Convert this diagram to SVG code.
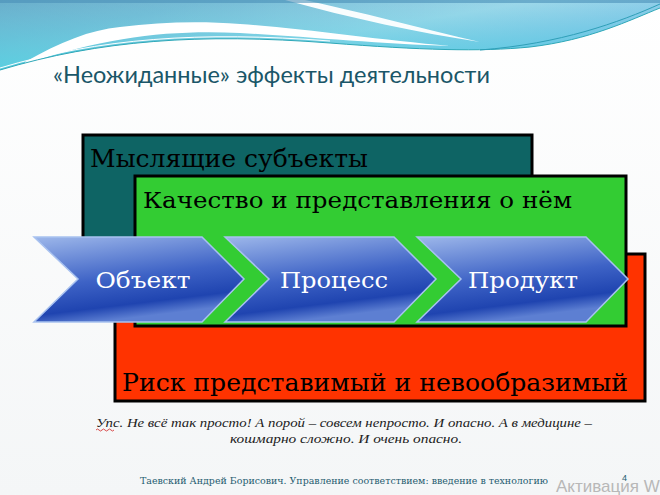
<svg xmlns="http://www.w3.org/2000/svg" width="660" height="495" viewBox="0 0 660 495">
<defs>
<linearGradient id="bg" x1="0" y1="0" x2="0" y2="1"><stop offset="0" stop-color="#ffffff"/><stop offset="1" stop-color="#f4f6f7"/></linearGradient>
<linearGradient id="wave" x1="0" y1="0" x2="1" y2="0.6"><stop offset="0" stop-color="#6aaecb"/><stop offset="0.25" stop-color="#78bcd6"/><stop offset="0.6" stop-color="#9ed8ea"/><stop offset="1" stop-color="#7cc0e8"/></linearGradient>
<linearGradient id="cyan" x1="0" y1="0" x2="0" y2="1"><stop offset="0" stop-color="#50c8dc" stop-opacity="0"/><stop offset="1" stop-color="#44d0e0"/></linearGradient>
<linearGradient id="chev" x1="0" y1="0" x2="0.3" y2="1"><stop offset="0" stop-color="#9db7ea"/><stop offset="0.55" stop-color="#3e63c6"/><stop offset="0.85" stop-color="#1f44b0"/><stop offset="1" stop-color="#5d7fd2"/></linearGradient>
<style>
.box{stroke:#000;stroke-width:3}
.sf{font-family:"DejaVu Serif","Liberation Serif",serif}
.ch{fill:url(#chev);stroke:#a8c2f0;stroke-width:1.5}
.cl{font-family:"DejaVu Serif","Liberation Serif",serif;font-size:23px;fill:#fff;text-anchor:middle}
.ln{fill:none;stroke-width:1}
</style>
</defs>
<rect width="660" height="495" fill="url(#bg)"/>
<g id="header">
<path d="M0,0 H660 V8 C630,20 590,40 530,47 C480,52 420,50 330,43 C200,33 100,40 0,70 Z" fill="url(#wave)"/>
<path d="M0,0 H660 V8 C630,20 590,40 530,47 C480,52 420,50 330,43 C200,33 100,40 0,70 Z" fill="url(#cyan)" opacity="0.7"/>
<path d="M25,62 C60,42 90,30 120,27 C160,22 200,21 240,24 C300,28 380,40 450,46 C380,44 300,36 240,33 C170,30 110,36 25,64 Z" fill="#ffffff"/>
<path d="M285,0 L305,0 C360,12 420,28 480,42 C420,33 350,18 285,0 Z" fill="#ffffff" opacity="0.95"/>
<path class="ln" d="M0,70 C100,40 200,33 330,43 C420,50 480,52 530,47 C590,40 630,20 660,8" stroke="#2fa8b8"/>
<path class="ln" d="M0,68 C100,38 200,31 330,41" stroke="#ffffff"/>
<path class="ln" d="M480,50 C560,44 620,22 660,4" stroke="#2f9fb8"/>
<path d="M0,0 H660 V3 H0 Z" fill="#4a8fb8" opacity="0.6"/>
</g>
<text id="title" x="53" y="83" font-family="Lato,'Liberation Sans',sans-serif" font-size="23" fill="#1a5668" textLength="437" lengthAdjust="spacingAndGlyphs">«Неожиданные» эффекты деятельности</text>
<g id="subjects">
<rect class="box" x="83" y="135" width="449" height="170" fill="#0e6464"/>
<text class="sf" x="90" y="167" font-size="25" fill="#000" textLength="278" lengthAdjust="spacingAndGlyphs">Мыслящие субъекты</text>
</g>
<g id="risk">
<rect class="box" x="115" y="254" width="530" height="147" fill="#ff3300"/>
<text class="sf" x="122" y="391" font-size="25" fill="#000" textLength="506" lengthAdjust="spacingAndGlyphs">Риск представимый и невообразимый</text>
</g>
<g id="quality">
<rect class="box" x="135" y="176" width="491" height="150" fill="#33cc33"/>
<text class="sf" x="143" y="208" font-size="23" fill="#000" textLength="429" lengthAdjust="spacingAndGlyphs">Качество и представления о нём</text>
</g>
<g id="object">
<path class="ch" d="M34,237 H202 L244,279 L202,322 H34 L78,279 Z"/>
<text class="cl" x="143" y="288" textLength="95" lengthAdjust="spacingAndGlyphs">Объект</text>
</g>
<g id="process">
<path class="ch" d="M225,237 H394 L436,279 L394,322 H225 L269,279 Z"/>
<text class="cl" x="334" y="288" textLength="108" lengthAdjust="spacingAndGlyphs">Процесс</text>
</g>
<g id="product">
<path class="ch" d="M417,237 H586 L628,279 L586,322 H417 L461,279 Z"/>
<text class="cl" x="523" y="288" textLength="110" lengthAdjust="spacingAndGlyphs">Продукт</text>
</g>
<g id="note" font-family="'Liberation Serif',serif" font-style="italic" font-size="13" fill="#222" text-anchor="middle">
<text x="344" y="427" textLength="496" lengthAdjust="spacingAndGlyphs">Упс. Не всё так просто! А порой – совсем непросто. И опасно. А в медицине –</text>
<text x="346" y="443" textLength="232" lengthAdjust="spacingAndGlyphs">кошмарно сложно. И очень опасно.</text>
<path d="M96,430 q1.5,-2 3,0 t3,0 t3,0 t3,0 t3,0 t3,0" fill="none" stroke="#d02020" stroke-width="0.8"/>
</g>
<g id="footer">
<text x="140" y="484" font-family="'DejaVu Serif',serif" font-size="8.5" fill="#1f5c70" textLength="408" lengthAdjust="spacingAndGlyphs">Таевский Андрей Борисович. Управление соответствием: введение в технологию</text>
<text x="556" y="492" font-family="'Liberation Sans',sans-serif" font-size="17" fill="#b8b8b8">Активация W</text>
<text x="622" y="481" font-family="'Liberation Sans',sans-serif" font-size="9" fill="#1f5c70">4</text>
</g>
</svg>
